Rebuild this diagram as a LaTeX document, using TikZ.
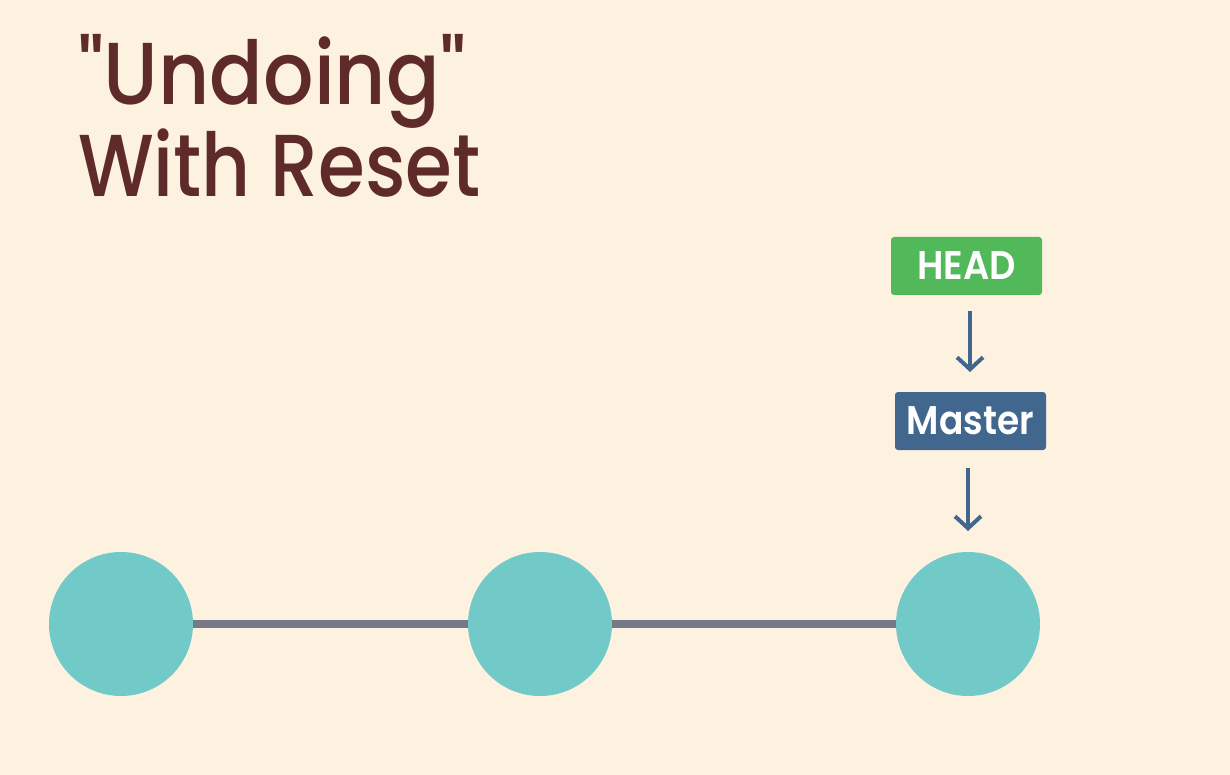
\documentclass[tikz,border=0pt]{standalone}
\usepackage{fontspec}
\setmainfont{Poppins}[Ligatures=TeXOff]
\newfontfamily\titlefont{Poppins Medium}[Ligatures=TeXOff]
\newfontfamily\labelfont{Poppins SemiBold}[Ligatures=TeXOff]
\usetikzlibrary{arrows.meta}
\definecolor{bg}{HTML}{FDF1E0}
\definecolor{titlec}{HTML}{5E2A2A}
\definecolor{commitc}{HTML}{72CAC8}
\definecolor{linec}{HTML}{767A86}
\definecolor{headc}{HTML}{52B95A}
\definecolor{masterc}{HTML}{41678E}
\tikzset{
  commit/.style={circle, fill=commitc, minimum size=144pt, inner sep=0pt},
  refbox/.style={rounded corners=3pt, text=white, minimum height=58pt, inner sep=0pt, font=\labelfont\fontsize{40}{40}\selectfont},
  ptr/.style={draw=masterc, line width=4pt, -{Straight Barb[length=12pt, width=26pt, line width=4pt]}},
  titletext/.style={anchor=base west, inner sep=0pt, text=titlec, font=\titlefont\fontsize{88}{92}\selectfont}
}
\begin{document}
\begin{tikzpicture}[x=1pt, y=-1pt]
\fill[bg] (0,0) rectangle (1230,775);
\useasboundingbox (0,0) rectangle (1230,775);
\node[titletext] (t1) at (78,105) {\scalebox{0.9}[1]{"Undoing"}};
\node[titletext] (t2) at (78,197) {\scalebox{0.86}[1]{With Reset}};
\node[commit] (c1) at (121,624) {};
\node[commit] (c2) at (540,624) {};
\node[commit] (c3) at (968,624) {};
\draw[linec, line width=8pt] (c1) -- (c2);
\draw[linec, line width=8pt] (c2) -- (c3);
\node[refbox, fill=headc, minimum width=151pt] (head) at (966.5,266) {\scalebox{0.92}[1]{HEAD}};
\node[refbox, fill=masterc, minimum width=151pt] (master) at (970.5,421) {\scalebox{0.9}[1]{Master}};
\coordinate (a1s) at (970,311);
\coordinate (a1e) at (970,372);
\coordinate (a2s) at (968,468);
\coordinate (a2e) at (968,531);
\draw[ptr] (a1s) -- (a1e);
\draw[ptr] (a2s) -- (a2e);
\end{tikzpicture}
\end{document}
